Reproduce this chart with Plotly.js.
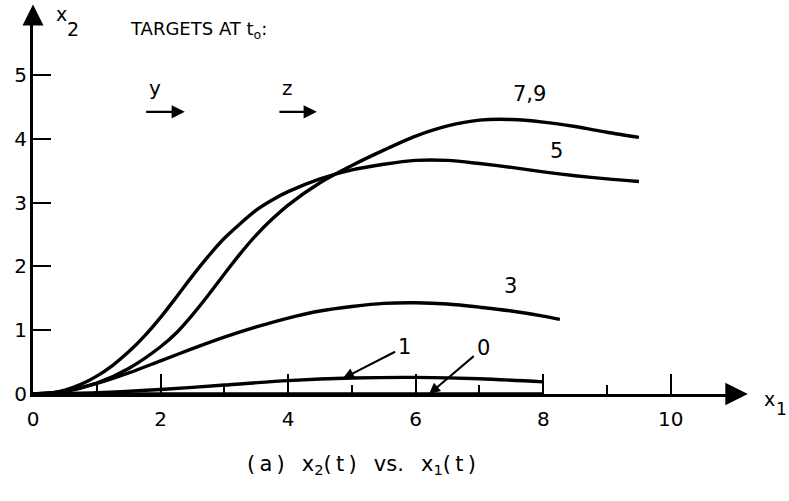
<!DOCTYPE html>
<html>
<head>
<meta charset="utf-8">
<script src="https://cdn.plot.ly/plotly-3.0.1.min.js"></script>
<style>
  html, body { margin: 0; padding: 0; background: #fff; }
  #chart { width: 789px; height: 501px; }
</style>
</head>
<body>
<div id="chart"></div>
<script>
// Trajectories x2(t) vs x1(t) for the different target sets at t0
const x79 = [0, 0.5, 1.0, 1.5, 2.0, 2.25, 2.5, 2.75, 3.0, 3.25, 3.5, 3.75, 4.0, 4.5, 5.0, 5.5, 6.0, 6.5, 7.0, 7.5, 8.0, 8.5, 9.0, 9.5];
const y79 = [0, 0.04, 0.17, 0.40, 0.74, 0.96, 1.24, 1.55, 1.88, 2.20, 2.49, 2.74, 2.96, 3.31, 3.58, 3.82, 4.04, 4.20, 4.29, 4.30, 4.26, 4.19, 4.10, 4.02];

const x5 = [0, 0.25, 0.5, 0.75, 1.0, 1.25, 1.5, 1.75, 2.0, 2.25, 2.5, 2.75, 3.0, 3.5, 3.75, 4.0, 4.5, 5.0, 5.5, 6.0, 6.5, 7.0, 7.5, 8.0, 8.5, 9.0, 9.5];
const y5 = [0, 0.01, 0.06, 0.15, 0.28, 0.45, 0.66, 0.91, 1.20, 1.52, 1.85, 2.16, 2.44, 2.88, 3.04, 3.17, 3.37, 3.51, 3.60, 3.66, 3.66, 3.61, 3.55, 3.48, 3.42, 3.37, 3.33];

const x3 = [0, 0.5, 1.0, 1.5, 2.0, 2.5, 3.0, 3.5, 4.0, 4.5, 5.0, 5.5, 6.0, 6.5, 7.0, 7.5, 8.0, 8.26];
const y3 = [0, 0.045, 0.165, 0.33, 0.52, 0.71, 0.89, 1.05, 1.19, 1.30, 1.37, 1.42, 1.43, 1.41, 1.36, 1.30, 1.22, 1.17];

const x1 = [0, 1, 2, 3, 4, 5, 6, 7, 8];
const y1 = [0, 0.02, 0.07, 0.14, 0.21, 0.25, 0.26, 0.24, 0.19];

const x0 = [0, 8];
const y0 = [0, 0];

// Curve labels and where they sit
const curveLabels = ['7,9', '5', '3'];
const curveLabelX = [7.79, 8.2, 7.49];
const curveLabelY = [4.7, 3.8, 1.69];

// Labels with pointer arrows: text position and arrow tip
const pointerLabels = ['1', '0'];
const pointerTextX = [5.83, 7.06];
const pointerTextY = [0.74, 0.72];
const pointerTipX = [4.86, 6.21];
const pointerTipY = [0.245, 0.0];

// Target direction arrows
const targetNames = ['y', 'z'];
const targetStartX = [1.75, 3.84];
const targetEndX = [2.38, 4.45];
const targetArrowY = 4.42;
const targetNameX = [1.91, 3.99];
const targetNameY = 4.8;

// Ticks
const xMajorTicks = [0, 2, 4, 6, 8, 10];
const xMinorTicks = [1, 3, 5, 7, 9];
const yTicks = [0, 1, 2, 3, 4, 5];

const FONT = 'DejaVu Sans, sans-serif';
const INK = '#000';

function curve(x, y) {
  return {
    x: x, y: y, type: 'scatter', mode: 'lines',
    line: { color: INK, width: 3.4, shape: 'spline', smoothing: 0.8 },
    hoverinfo: 'skip', showlegend: false, cliponaxis: false
  };
}

const traces = [curve(x79, y79), curve(x5, y5), curve(x3, y3), curve(x1, y1), curve(x0, y0)];

const annotations = [];

curveLabels.forEach((t, i) => {
  annotations.push({
    x: curveLabelX[i], y: curveLabelY[i], xref: 'x', yref: 'y',
    xanchor: 'center', yanchor: 'middle',
    text: t, showarrow: false, font: { family: FONT, size: 21, color: INK }
  });
});

pointerLabels.forEach((t, i) => {
  annotations.push({
    x: pointerTipX[i], y: pointerTipY[i], xref: 'x', yref: 'y',
    ax: pointerTextX[i], ay: pointerTextY[i], axref: 'x', ayref: 'y',
    text: t, showarrow: true, arrowhead: 2, arrowsize: 1.1, arrowwidth: 2,
    arrowcolor: INK, standoff: 0, startstandoff: 2,
    font: { family: FONT, size: 21, color: INK }
  });
});

targetNames.forEach((t, i) => {
  annotations.push({
    x: targetEndX[i], y: targetArrowY, xref: 'x', yref: 'y',
    ax: targetStartX[i], ay: targetArrowY, axref: 'x', ayref: 'y',
    text: '', showarrow: true, arrowhead: 2, arrowsize: 1.2, arrowwidth: 2.2,
    arrowcolor: INK, standoff: 0
  });
  annotations.push({
    x: targetNameX[i], y: targetNameY, xref: 'x', yref: 'y',
    xanchor: 'center', yanchor: 'middle',
    text: t, showarrow: false, font: { family: FONT, size: 20, color: INK }
  });
});

// Heading
annotations.push({
  x: 1.49, y: 5.71, xref: 'x', yref: 'y', xanchor: 'left', yanchor: 'middle',
  text: 'TARGETS AT t<sub>o</sub>:', showarrow: false,
  font: { family: FONT, size: 18, color: INK }
});

// Axis names
annotations.push({ x: 0.44, y: 5.95, xref: 'x', yref: 'y', xanchor: 'center', yanchor: 'middle',
  text: 'x', showarrow: false, font: { family: FONT, size: 19, color: INK } });
annotations.push({ x: 0.62, y: 5.72, xref: 'x', yref: 'y', xanchor: 'center', yanchor: 'middle',
  text: '2', showarrow: false, font: { family: FONT, size: 19, color: INK } });
annotations.push({ x: 1.0407, y: -0.0143, xref: 'paper', yref: 'paper', xanchor: 'center', yanchor: 'middle',
  text: 'x', showarrow: false, font: { family: FONT, size: 19, color: INK } });
annotations.push({ x: 1.0576, y: -0.039, xref: 'paper', yref: 'paper', xanchor: 'center', yanchor: 'middle',
  text: '1', showarrow: false, font: { family: FONT, size: 17, color: INK } });

// Axis arrowheads
annotations.push({
  x: 1.0096, y: 0, xref: 'paper', yref: 'paper', ax: -20, ay: 0,
  text: '', showarrow: true, arrowhead: 2, arrowsize: 1.5, arrowwidth: 3, arrowcolor: INK, standoff: 0
});
annotations.push({
  x: 0, y: 1.017, xref: 'paper', yref: 'paper', ax: 0, ay: 20,
  text: '', showarrow: true, arrowhead: 2, arrowsize: 1.4, arrowwidth: 3, arrowcolor: INK, standoff: 0
});

// Caption
annotations.push({
  x: 0.4646, y: -0.186, xref: 'paper', yref: 'paper', xanchor: 'center', yanchor: 'middle',
  text: '(\u2009a\u2009)\u2002 x<sub>2</sub>(\u2009t\u2009)\u2002 vs.\u2002 x<sub>1</sub>(\u2009t\u2009)',
  showarrow: false, font: { family: FONT, size: 21, color: INK }
});

const layout = {
  width: 789, height: 501,
  margin: { l: 33, r: 47.8, t: 10.5, b: 106.5, pad: 0 },
  paper_bgcolor: '#fff', plot_bgcolor: '#fff',
  showlegend: false,
  xaxis: {
    range: [0, 11.1], showgrid: false, zeroline: false,
    showline: true, linecolor: INK, linewidth: 3,
    ticks: 'inside', tickvals: xMajorTicks, ticktext: xMajorTicks.map(String),
    ticklen: 20, tickwidth: 2, tickcolor: INK,
    minor: { tickvals: xMinorTicks, ticks: 'inside', ticklen: 9, tickwidth: 2, tickcolor: INK, showgrid: false },
    tickfont: { family: FONT, size: 20, color: INK },
    ticklabelstandoff: 5, fixedrange: true
  },
  yaxis: {
    range: [0, 6.0], showgrid: false, zeroline: false,
    showline: true, linecolor: INK, linewidth: 3,
    ticks: 'inside', tickvals: yTicks, ticktext: yTicks.map(String),
    ticklen: 18, tickwidth: 2, tickcolor: INK,
    tickfont: { family: FONT, size: 20, color: INK },
    ticklabelstandoff: -1, fixedrange: true
  },
  annotations: annotations
};

Plotly.newPlot('chart', traces, layout, { displayModeBar: false, staticPlot: true });
</script>
</body>
</html>
